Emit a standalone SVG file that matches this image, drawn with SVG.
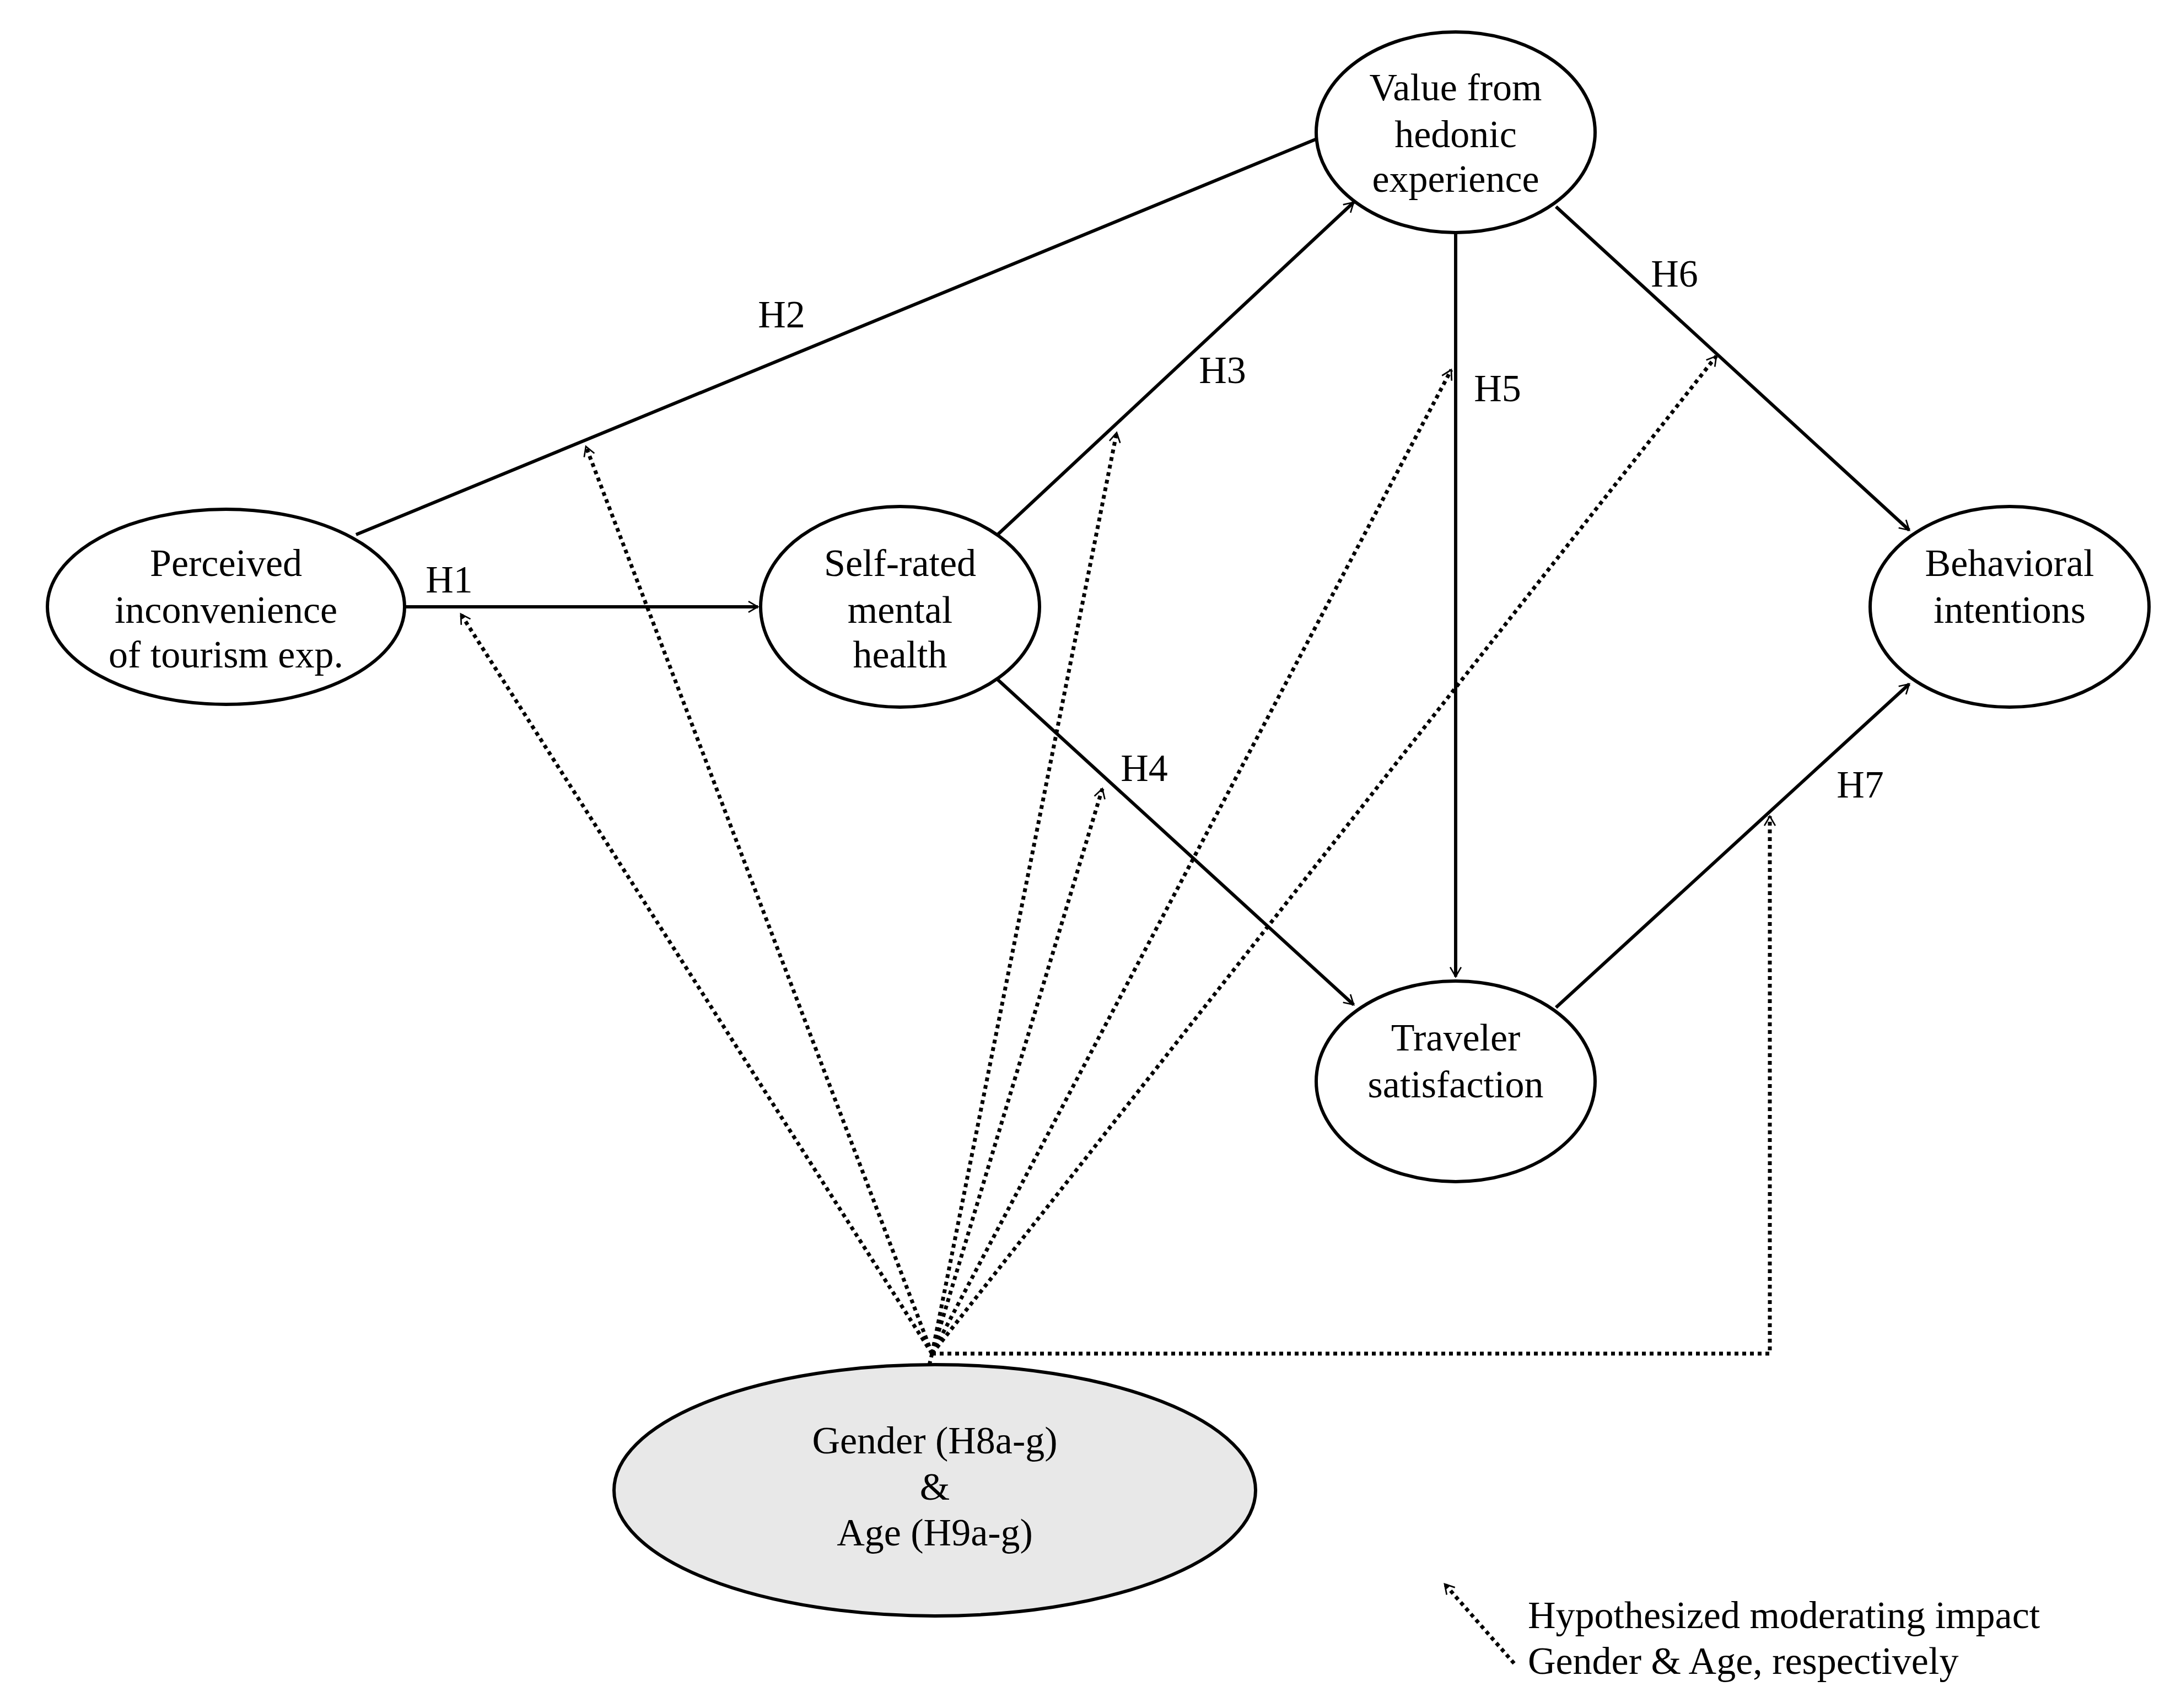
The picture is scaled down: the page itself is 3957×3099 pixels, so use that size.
<svg xmlns="http://www.w3.org/2000/svg" width="3957" height="3099" viewBox="0 0 3957 3099">
<style>
.n{fill:#fff;stroke:#000;stroke-width:6}
.g{fill:#e8e8e8;stroke:#000;stroke-width:6}
text{font-family:"Liberation Serif","Times New Roman",serif;font-size:70px;fill:#000;text-anchor:middle}
.s{stroke:#000;stroke-width:6;fill:none;marker-end:url(#a)}
.d{stroke:#000;stroke-width:7;fill:none;stroke-dasharray:7,7;marker-end:url(#a)}
.l{text-anchor:start}
</style>
<defs>
<marker id="a" viewBox="0 0 20 20" refX="18" refY="10" markerWidth="9" markerHeight="9" markerUnits="userSpaceOnUse" orient="auto" overflow="visible">
<path d="M-20,-12 L18,10 L-20,32" transform="scale(1)" fill="none" stroke="#000" stroke-width="6"/>
</marker>
</defs>
<rect width="3957" height="3099" fill="#fff"/>
<g id="connectors">
<line class="s" x1="734" y1="1101" x2="1375" y2="1101"/>
<line class="s" x1="646" y1="970" x2="2418" y2="240"/>
<line class="s" x1="1810" y1="970" x2="2456" y2="367"/>
<line class="s" x1="1810" y1="1233" x2="2456" y2="1823"/>
<line class="s" x1="2641" y1="423" x2="2641" y2="1772"/>
<line class="s" x1="2823" y1="375" x2="3464" y2="962"/>
<line class="s" x1="2823" y1="1828" x2="3464" y2="1241"/>
<line class="d" x1="1691" y1="2456" x2="836" y2="1114"/>
<line class="d" x1="1691" y1="2456" x2="1063" y2="810"/>
<line class="d" x1="1691" y1="2456" x2="2026" y2="785"/>
<line class="d" x1="1691" y1="2456" x2="2000" y2="1431"/>
<line class="d" x1="1691" y1="2456" x2="2633" y2="671"/>
<line class="d" x1="1691" y1="2456" x2="3114" y2="646"/>
<polyline class="d" points="1691,2456 3211,2456 3211,1481"/>
<line x1="1691" y1="2456" x2="1676" y2="2519" stroke="#000" stroke-width="7" stroke-dasharray="7,7"/>
<line class="d" x1="2747" y1="3018" x2="2621" y2="2874"/>
<text x="815" y="1075">H1</text>
<text x="1418" y="594">H2</text>
<text x="2218" y="695">H3</text>
<text x="2076" y="1417">H4</text>
<text x="2717" y="728">H5</text>
<text x="3038" y="520">H6</text>
<text x="3375" y="1447">H7</text>
</g>
<g id="perceived"><ellipse class="n" cx="410" cy="1101" rx="324" ry="177"/>
<text x="410" y="1045">Perceived</text><text x="410" y="1130">inconvenience</text><text x="410" y="1211">of tourism exp.</text></g>
<g id="selfrated"><ellipse class="n" cx="1633" cy="1101" rx="253" ry="182"/>
<text x="1633" y="1045">Self-rated</text><text x="1633" y="1130">mental</text><text x="1633" y="1211">health</text></g>
<g id="value"><ellipse class="n" cx="2641" cy="240" rx="253" ry="182"/>
<text x="2641" y="182">Value from</text><text x="2641" y="267">hedonic</text><text x="2641" y="348">experience</text></g>
<g id="behavioral"><ellipse class="n" cx="3646" cy="1101" rx="253" ry="182"/>
<text x="3646" y="1045">Behavioral</text><text x="3646" y="1130">intentions</text></g>
<g id="traveler"><ellipse class="n" cx="2641" cy="1962" rx="253" ry="182"/>
<text x="2641" y="1906">Traveler</text><text x="2641" y="1991">satisfaction</text></g>
<g id="gender"><ellipse class="g" cx="1696" cy="2704" rx="582" ry="228"/>
<text x="1696" y="2637">Gender (H8a-g)</text><text x="1696" y="2721">&amp;</text><text x="1696" y="2804">Age (H9a-g)</text></g>
<g id="legend">
<text class="l" x="2772" y="2954">Hypothesized moderating impact</text>
<text class="l" x="2772" y="3037">Gender &amp; Age, respectively</text>
</g>
</svg>
